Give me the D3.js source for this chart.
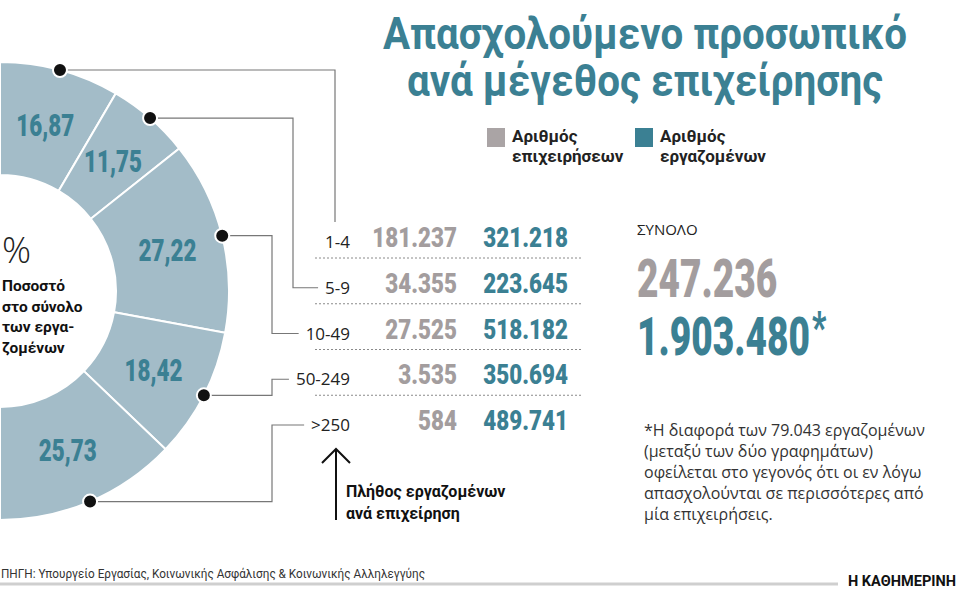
<!DOCTYPE html>
<html lang="el">
<head>
<meta charset="UTF-8">
<title>Απασχολούμενο προσωπικό ανά μέγεθος επιχείρησης</title>
<script src="https://d3js.org/d3.v7.min.js"></script>
<style>
  body { margin: 0; background: #fff; }
  svg { display: block; }
  .num { font-family: Roboto, "DejaVu Sans Condensed", sans-serif; font-weight: 900; }
  .body { font-family: "Open Sans", "Noto Sans", sans-serif; }
  .bold { font-family: Roboto, "Noto Sans", sans-serif; font-weight: bold; }
  .src { font-family: Roboto, "Noto Sans", sans-serif; font-weight: normal; }
</style>
</head>
<body>
<div id="chart"></div>
<script>
// data
const sizeBands = ["1-4", "5-9", "10-49", "50-249", ">250"];
const firms = [181237, 34355, 27525, 3535, 584];
const employees = [321218, 223645, 518182, 350694, 489741];
const sharePct = [16.87, 11.75, 27.22, 18.42, 25.73];
const totalFirms = 247236;
const totalEmployees = 1903480;

const titleLines = ["Απασχολούμενο προσωπικό", "ανά μέγεθος επιχείρησης"];
const legendLabels = [["Αριθμός", "επιχειρήσεων"], ["Αριθμός", "εργαζομένων"]];
const noteLines = [
  "*Η διαφορά των 79.043 εργαζομένων",
  "(μεταξύ των δύο γραφημάτων)",
  "οφείλεται στο γεγονός ότι οι εν λόγω",
  "απασχολούνται σε περισσότερες από",
  "μία επιχειρήσεις."
];
const centerLines = ["Ποσοστό", "στο σύνολο", "των εργα-", "ζομένων"];

const teal = "#3b8093", grey = "#a39d9e", ring = "#a3bcc8";
const width = 960, height = 600;

const gr = d3.formatLocale({ decimal: ",", thousands: ".", grouping: [3], currency: ["", "€"] });
const fmtInt = gr.format(",d");
const fmtPct = gr.format(".2f");

const svg = d3.select("#chart").append("svg")
  .attr("width", width).attr("height", height);

// title
svg.append("g").selectAll("text").data(titleLines).join("text")
  .attr("class", "bold")
  .attr("x", 645).attr("y", (d, i) => 49 + i * 47)
  .attr("text-anchor", "middle")
  .attr("font-size", 44).attr("fill", teal)
  .attr("textLength", (d, i) => i === 0 ? 524 : 476)
  .attr("lengthAdjust", "spacingAndGlyphs")
  .text(d => d);

// legend
const legend = svg.append("g").selectAll("g").data(legendLabels).join("g")
  .attr("transform", (d, i) => `translate(${487 + i * 148},128)`);
legend.append("rect").attr("width", 18).attr("height", 19)
  .attr("fill", (d, i) => i === 0 ? "#aaa4a5" : teal);
legend.selectAll("text").data(d => d).join("text")
  .attr("class", "bold").attr("font-size", 17).attr("fill", "#222")
  .attr("x", 25).attr("y", (d, i) => 14 + i * 20)
  .text(d => d);

// half donut
const cx = 0, cy = 291;
const pie = d3.pie().sort(null).startAngle(0).endAngle(Math.PI);
const arc = d3.arc().innerRadius(116).outerRadius(229);
const arcs = pie(sharePct);

const donut = svg.append("g").attr("transform", `translate(${cx},${cy})`);
donut.selectAll("path").data(arcs).join("path")
  .attr("d", arc).attr("fill", ring)
  .attr("stroke", "#fff").attr("stroke-width", 2);
donut.selectAll("text.pct").data(arcs).join("text")
  .attr("class", "num pct")
  .attr("transform", d => `translate(${arc.centroid(d)}) scale(0.7,1)`)
  .attr("dy", "0.36em")
  .attr("text-anchor", "middle")
  .attr("font-size", 32)
  .attr("fill", teal)
  .text(d => fmtPct(d.data));

// centre caption
svg.append("text").attr("class", "body")
  .attr("x", 2).attr("y", 263).attr("font-size", 36).attr("font-weight", 300)
  .attr("fill", "#222").text("%");
svg.append("g").selectAll("text").data(centerLines).join("text")
  .attr("class", "bold").attr("font-size", 15.5).attr("fill", "#111")
  .attr("x", 2).attr("y", (d, i) => 291 + i * 20.5)
  .text(d => d);

// table
const rowY = d3.scalePoint().domain(sizeBands).range([247, 430]);
const labelRight = 350;

const rows = svg.append("g");
rows.selectAll("line.sep").data(sizeBands.slice(0, -1)).join("line")
  .attr("x1", 315).attr("x2", 583)
  .attr("y1", d => rowY(d) + 11).attr("y2", d => rowY(d) + 11)
  .attr("stroke", "#8a8a8a").attr("stroke-width", 1).attr("stroke-dasharray", "2,2");

const bandLabels = rows.selectAll("text.band").data(sizeBands).join("text")
  .attr("class", "body band")
  .attr("x", labelRight).attr("y", d => rowY(d) + 1)
  .attr("text-anchor", "end").attr("font-size", 17).attr("fill", "#222")
  .text(d => d);

rows.selectAll("text.firms").data(firms).join("text")
  .attr("class", "num firms")
  .attr("transform", (d, i) => `translate(457,${rowY(sizeBands[i])}) scale(0.8,1)`)
  .attr("text-anchor", "end").attr("font-size", 28)
  .attr("fill", grey).text(d => fmtInt(d));

rows.selectAll("text.emp").data(employees).join("text")
  .attr("class", "num emp")
  .attr("transform", (d, i) => `translate(568,${rowY(sizeBands[i])}) scale(0.8,1)`)
  .attr("text-anchor", "end").attr("font-size", 28)
  .attr("fill", teal).text(d => fmtInt(d));

// leader lines from the ring to the size bands
const elbowX = [335, 293, 272, 272, 272];
const leaders = svg.append("g");
arcs.forEach((d, i) => {
  const a = (d.startAngle + d.endAngle) / 2;
  const px = cx + 229 * Math.sin(a), py = cy - 229 * Math.cos(a);
  const ly = rowY(sizeBands[i]) - 5;
  const lw = bandLabels.nodes()[i].getComputedTextLength();
  let path;
  if (i === 0) {
    path = `M${px},${py}H${elbowX[i]}V${ly - 20}`;
  } else {
    path = `M${px},${py}H${elbowX[i]}V${ly}H${labelRight - lw - 7}`;
  }
  leaders.append("path").attr("d", path)
    .attr("fill", "none").attr("stroke", "#777").attr("stroke-width", 1.2);
  leaders.append("circle").attr("cx", px).attr("cy", py).attr("r", 7)
    .attr("fill", "#111").attr("stroke", "#fff").attr("stroke-width", 2);
});

// arrow + caption
svg.append("path").attr("d", "M336,520V449M322,463L336,449L350,463")
  .attr("fill", "none").attr("stroke", "#111").attr("stroke-width", 2);
svg.append("g").selectAll("text").data(["Πλήθος εργαζομένων", "ανά επιχείρηση"]).join("text")
  .attr("class", "bold").attr("font-size", 16).attr("fill", "#111")
  .attr("x", 346).attr("y", (d, i) => 497 + i * 22)
  .text(d => d);

// totals
svg.append("text").attr("class", "body").attr("x", 637).attr("y", 235)
  .attr("font-size", 15).attr("fill", "#222").text("ΣΥΝΟΛΟ");
svg.append("text").attr("class", "num")
  .attr("transform", "translate(637,297) scale(0.7,1)")
  .attr("font-size", 53).attr("fill", grey)
  .text(fmtInt(totalFirms));
const tot = svg.append("text").attr("class", "num")
  .attr("transform", "translate(637,355) scale(0.7,1)")
  .attr("font-size", 53).attr("fill", teal);
tot.append("tspan").text(fmtInt(totalEmployees));
tot.append("tspan").attr("dy", -12).attr("dx", 3).attr("font-size", 44).text("*");

// footnote
svg.append("g").selectAll("text").data(noteLines).join("text")
  .attr("class", "body").attr("font-size", 16).attr("fill", "#333")
  .attr("x", 644).attr("y", (d, i) => 436 + i * 21)
  .text(d => d);

// source + brand
svg.append("text").attr("class", "src")
  .attr("x", 1).attr("y", 578).attr("font-size", 12).attr("fill", "#333")
  .attr("textLength", 424).attr("lengthAdjust", "spacingAndGlyphs")
  .text("ΠΗΓΗ: Υπουργείο Εργασίας, Κοινωνικής Ασφάλισης & Κοινωνικής Αλληλεγγύης");
svg.append("line").attr("x1", 0).attr("x2", 838).attr("y1", 584).attr("y2", 584)
  .attr("stroke", "#cfcfcf").attr("stroke-width", 3);
svg.append("text").attr("class", "bold")
  .attr("x", 956).attr("y", 586).attr("text-anchor", "end")
  .attr("font-size", 15).attr("fill", "#111")
  .attr("textLength", 108).attr("lengthAdjust", "spacingAndGlyphs")
  .text("Η ΚΑΘΗΜΕΡΙΝΗ");
</script>
</body>
</html>
